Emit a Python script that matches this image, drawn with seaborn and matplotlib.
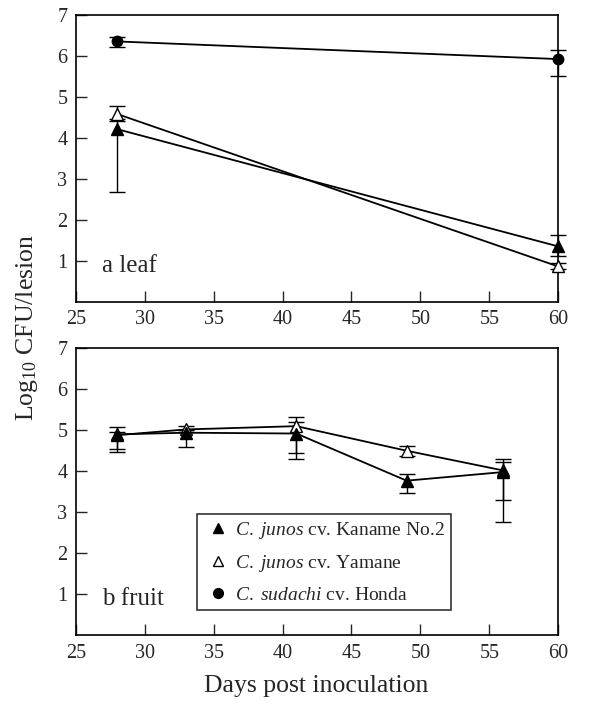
import matplotlib
matplotlib.use('Agg')
import numpy as np
import pandas as pd
import matplotlib.pyplot as plt
from matplotlib.lines import Line2D
import seaborn as sns

# Data
leaf_days = [28, 60]
leaf_kaname = [4.21, 1.35]
leaf_kaname_lo = [2.68, 1.12]
leaf_kaname_hi = [4.40, 1.63]
leaf_yamane = [4.58, 0.86]
leaf_yamane_lo = [4.45, 0.80]
leaf_yamane_hi = [4.78, 0.95]
leaf_honda = [6.35, 5.92]
leaf_honda_lo = [6.21, 5.51]
leaf_honda_hi = [6.47, 6.13]

fruit_days = [28, 33, 41, 49, 56]
fruit_kaname = [4.90, 4.94, 4.92, 3.77, 3.98]
fruit_kaname_lo = [4.46, 4.59, 4.29, 3.48, 2.76]
fruit_kaname_hi = [5.08, 5.00, 5.19, 3.93, 4.23]
fruit_yamane = [4.88, 5.02, 5.10, 4.50, 4.02]
fruit_yamane_lo = [4.55, 4.95, 4.45, 4.37, 3.29]
fruit_yamane_hi = [4.95, 5.11, 5.32, 4.62, 4.31]

labels = [r'$\it{C.\ junos}$ cv. Kaname No.2',
          r'$\it{C.\ junos}$ cv. Yamane',
          r'$\it{C.\ sudachi}$ cv. Honda']

sns.set_style('ticks')
plt.rcParams['font.family'] = ['Liberation Serif', 'DejaVu Serif']
plt.rcParams['mathtext.fontset'] = 'custom'
plt.rcParams['mathtext.rm'] = 'Liberation Serif'
plt.rcParams['mathtext.it'] = 'Liberation Serif:italic'
plt.rcParams['axes.linewidth'] = 1.2

fig = plt.figure(figsize=(5.97, 7.05), dpi=100)
ax1 = fig.add_axes([0.127, 0.572, 0.808, 0.407])
ax2 = fig.add_axes([0.127, 0.099, 0.808, 0.407])

styles = {
    'kaname': dict(marker='^', markerfacecolor='black', markersize=8),
    'yamane': dict(marker='^', markerfacecolor='white', markersize=8),
    'honda': dict(marker='o', markerfacecolor='black', markersize=7.5),
}


def draw(ax, x, y, lo, hi, key):
    y = np.array(y)
    err = [y - np.array(lo), np.array(hi) - y]
    eb = ax.errorbar(x, y, yerr=err, fmt='none', ecolor='black', elinewidth=1.0,
                     capsize=6, capthick=1.0, zorder=2)
    for art in eb.get_children():
        art.set_clip_on(False)
    sns.lineplot(x=x, y=y, ax=ax, color='black', linewidth=1.3,
                 markeredgecolor='black', markeredgewidth=1.0, zorder=3,
                 clip_on=False, **styles[key])


draw(ax1, leaf_days, leaf_honda, leaf_honda_lo, leaf_honda_hi, 'honda')
draw(ax1, leaf_days, leaf_yamane, leaf_yamane_lo, leaf_yamane_hi, 'yamane')
draw(ax1, leaf_days, leaf_kaname, leaf_kaname_lo, leaf_kaname_hi, 'kaname')

draw(ax2, fruit_days, fruit_yamane, fruit_yamane_lo, fruit_yamane_hi, 'yamane')
draw(ax2, fruit_days, fruit_kaname, fruit_kaname_lo, fruit_kaname_hi, 'kaname')

for ax, tag in [(ax1, 'a leaf'), (ax2, 'b fruit')]:
    ax.set_xlim(25, 60)
    ax.set_ylim(0, 7)
    ax.set_xticks(range(25, 61, 5))
    ax.set_yticks(range(1, 8))
    ax.tick_params(direction='in', length=8, width=1.0, labelsize=14.5,
                   top=False, right=False, pad=6)
    ax.set_xlabel('')
    ax.set_ylabel('')
    for sp in ax.spines.values():
        sp.set_visible(True)
        sp.set_color('black')
    ax.text(0.054, 0.105, tag, transform=ax.transAxes, fontsize=18,
            va='baseline', ha='left')

handles = [Line2D([], [], linestyle='none', color='black', markeredgecolor='black',
                  **{k: v for k, v in styles[k].items() if k != 'markersize'},
                  markersize=7)
           for k in ['kaname', 'yamane', 'honda']]
leg = ax2.legend(handles, labels, loc='lower left', bbox_to_anchor=(0.251, 0.087),
                 fontsize=14, frameon=True, fancybox=False, edgecolor='black',
                 handlelength=1.5, handletextpad=0.15, labelspacing=0.63,
                 borderpad=0.32, borderaxespad=0)
leg.get_frame().set_linewidth(1.2)

fig.text(0.53, 0.012, 'Days post inoculation', ha='center', va='bottom', fontsize=18.5)
fig.text(0.045, 0.535, r'Log$_{10}$ CFU/lesion', rotation=90, ha='center',
         va='center', fontsize=18.5)

fig.savefig('out.png', dpi=100, facecolor='white')
